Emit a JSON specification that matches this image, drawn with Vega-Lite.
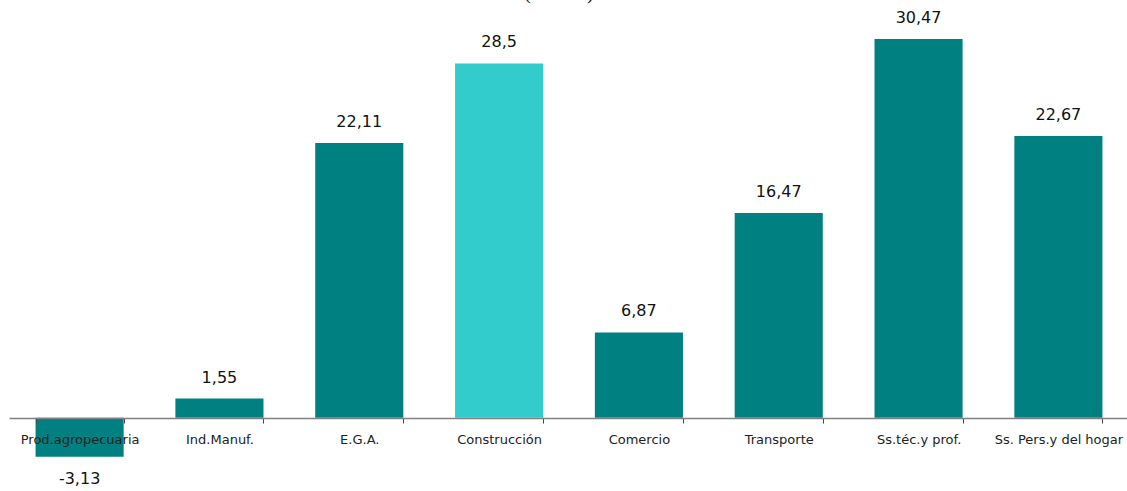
{
  "$schema": "https://vega.github.io/schema/vega-lite/v6.json",
  "width": 1120,
  "height": 480,
  "autosize": "none",
  "padding": {"left": 9, "top": 0, "right": 0, "bottom": 11},
  "background": "white",
  "title": {"text": "(Var. %)", "font": "Liberation Serif", "fontSize": 21, "fontWeight": "normal", "color": "#222", "baseline": "alphabetic", "offset": 0, "dy": 20, "anchor": "middle", "dx": -10},
  "config": {
    "view": {"stroke": null},
    "locale": {"number": {"decimal": ",", "thousands": ".", "grouping": [3], "currency": ["", ""], "minus": "-"}}
  },
  "data": {"values": [
    {"sector": "Prod.agropecuaria", "value": -3.13, "hl": "n"},
    {"sector": "Ind.Manuf.", "value": 1.55, "hl": "n"},
    {"sector": "E.G.A.", "value": 22.11, "hl": "n"},
    {"sector": "Construcción", "value": 28.5, "hl": "y"},
    {"sector": "Comercio", "value": 6.87, "hl": "n"},
    {"sector": "Transporte", "value": 16.47, "hl": "n"},
    {"sector": "Ss.téc.y prof.", "value": 30.47, "hl": "n"},
    {"sector": "Ss. Pers.y del hogar", "value": 22.67, "hl": "n"}
  ]},
  "encoding": {
    "x": {"field": "sector", "type": "nominal", "sort": null,
      "scale": {"paddingInner": 0.37, "paddingOuter": 0.19},
      "axis": {"title": null, "labelAngle": 0, "tickBand": "extent", "offset": -62, "zindex": 1,
        "domainColor": "#808080", "domainWidth": 1.5, "tickColor": "#444", "tickSize": 5, "labelFont": "DejaVu Sans", "labelFontSize": 13,
        "labelColor": "#222", "labelPadding": 16, "labelBaseline": "middle", "labelOverlap": false}},
    "y": {"field": "value", "type": "quantitative", "scale": {"domain": [-5, 33.6], "nice": false, "zero": true}, "axis": null}
  },
  "layer": [
    {"mark": {"type": "bar"},
     "encoding": {"color": {"field": "hl", "type": "nominal", "scale": {"domain": ["n", "y"], "range": ["#008080", "#33CCCC"]}, "legend": null}}},
    {"transform": [{"filter": "datum.value >= 0"}],
     "mark": {"type": "text", "baseline": "alphabetic", "dy": -16, "font": "DejaVu Sans", "fontSize": 16, "color": "#111"},
     "encoding": {"text": {"field": "value", "type": "quantitative", "format": ",.2~f"}}},
    {"transform": [{"filter": "datum.value < 0"}],
     "mark": {"type": "text", "baseline": "top", "dy": 14, "font": "DejaVu Sans", "fontSize": 16, "color": "#111"},
     "encoding": {"text": {"field": "value", "type": "quantitative", "format": ",.2~f"}}}
  ]
}
